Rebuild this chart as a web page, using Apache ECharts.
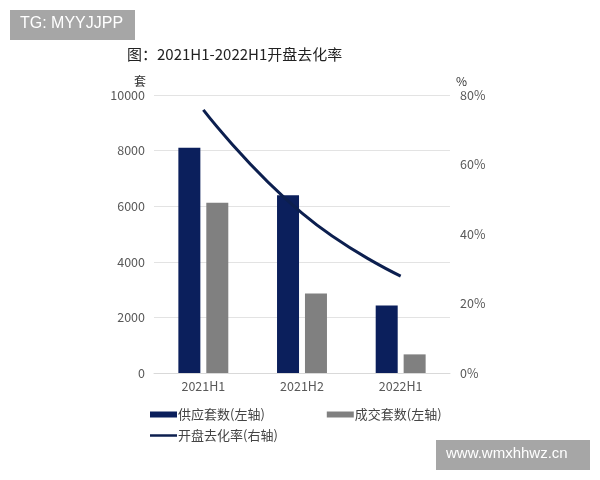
<!DOCTYPE html>
<html><head><meta charset="utf-8">
<script src="https://cdn.jsdelivr.net/npm/echarts@6/dist/echarts.min.js"></script>
<style>html,body{margin:0;padding:0;background:#fff}#c{width:600px;height:480px}</style>
</head><body><div id="c"></div>
<script>
const categories = ['2021H1','2021H2','2022H1'];
const supply = [8100, 6390, 2430];
const deals = [6120, 2860, 670];
const rate = [75.7, 46.0, 27.9];
const leftTicks = [0, 2000, 4000, 6000, 8000, 10000];
const rightTicks = ['0%','20%','40%','60%','80%'];

const chart = echarts.init(document.getElementById('c'), null, {renderer:'canvas'});
const font = "'Noto Sans CJK SC', 'Noto Sans', sans-serif";
chart.setOption({
  animation:false,
  textStyle:{fontFamily:font},
  title:{text:'图：2021H1-2022H1开盘去化率', left:122, top:42,
    textStyle:{fontSize:15, fontWeight:'normal', color:'#222', fontFamily:font}},
  grid:{left:154, right:150, top:95, bottom:107},
  legend:[
    {data:['供应套数(左轴)','成交套数(左轴)'], left:145, top:403, itemWidth:27, itemHeight:6, itemGap:62,
     icon:'rect', textStyle:{fontSize:13, color:'#444', padding:[0,0,0,-4]}},
    {data:[{name:'开盘去化率(右轴)', icon:'rect'}], left:145, top:424, itemWidth:27, itemHeight:2.5,
     textStyle:{fontSize:13, color:'#444', padding:[0,0,0,-4]}}
  ],
  xAxis:{type:'category', data:categories,
    axisLine:{show:true, lineStyle:{color:'#d9d9d9'}}, axisTick:{show:false},
    axisLabel:{color:'#595959', fontSize:12.5, margin:7}},
  yAxis:[
    {type:'value', min:leftTicks[0], max:leftTicks[leftTicks.length-1], interval:2000,
     name:'套', nameLocation:'end', nameGap:8, nameTextStyle:{color:'#333', fontSize:12, align:'right', padding:[0,8,0,0]},
     axisLabel:{color:'#595959', fontSize:12.5, margin:9, formatter:function(v){return String(v);}},
     splitLine:{lineStyle:{color:'#e3e3e3'}}},
    {type:'value', min:0, max:80, interval:20,
     name:'%', nameLocation:'end', nameGap:8, nameTextStyle:{color:'#333', fontSize:12, align:'left', padding:[0,0,0,6]},
     axisLabel:{color:'#595959', fontSize:12.5, margin:10, formatter:function(v){return rightTicks[v/20];}},
     splitLine:{show:false}}
  ],
  series:[
    {name:'供应套数(左轴)', type:'bar', data:supply, barWidth:22, barGap:'27%', itemStyle:{color:'#0b1f5c'}},
    {name:'成交套数(左轴)', type:'bar', data:deals, barWidth:22, itemStyle:{color:'#808080'}},
    {name:'开盘去化率(右轴)', type:'line', yAxisIndex:1, data:rate, smooth:true, symbol:'none',
     lineStyle:{color:'#0c1f4f', width:3}, itemStyle:{color:'#0c1f4f'}}
  ],
  graphic:[
    {type:'rect', left:10, top:10, shape:{width:125, height:30}, style:{fill:'#a6a6a6'}},
    {type:'text', left:20, top:16, style:{text:'TG: MYYJJPP', fill:'#fff', fontSize:16, fontFamily:'Liberation Sans, Arial, sans-serif'}},
    {type:'rect', left:436, top:440, shape:{width:154, height:30}, style:{fill:'#a6a6a6'}},
    {type:'text', left:446, top:446, style:{text:'www.wmxhhwz.cn', fill:'#fff', fontSize:15, fontFamily:'Liberation Sans, Arial, sans-serif'}}
  ]
});
</script></body></html>
